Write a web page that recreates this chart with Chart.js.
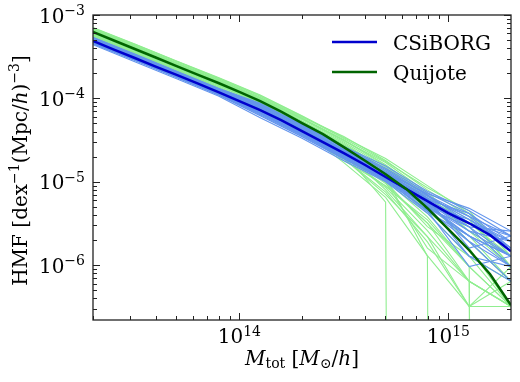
<!DOCTYPE html>
<html>
<head>
<meta charset="utf-8">
<script src="https://cdn.jsdelivr.net/npm/chart.js@4.4.1/dist/chart.umd.min.js"></script>
<style>
  html, body { margin: 0; padding: 0; background: #fff; }
  canvas { display: block; }
</style>
</head>
<body>
<canvas id="hmf" width="520" height="382"></canvas>
<script>
// Mass bins of the single realisations (0.2 dex) and of the mean curves (0.1 dex)
const binMass = [1.995e13, 3.162e13, 5.012e13, 7.943e13, 1.259e14, 1.995e14, 3.162e14, 5.012e14, 7.943e14, 1.259e15, 1.995e15];
const meanMass = [1.995e13, 2.512e13, 3.162e13, 3.981e13, 5.012e13, 6.310e13, 7.943e13, 1.000e14, 1.259e14, 1.585e14, 1.995e14,
                  2.512e14, 3.162e14, 3.981e14, 5.012e14, 6.310e14, 7.943e14, 1.000e15, 1.259e15, 1.585e15, 1.995e15];

// Mean HMF
const csiborgMean = [4.88e-4, 3.85e-4, 3.05e-4, 2.41e-4, 1.91e-4, 1.51e-4, 1.19e-4, 9.29e-5, 7.24e-5, 5.48e-5, 4.05e-5,
                     2.99e-5, 2.20e-5, 1.60e-5, 1.14e-5, 8.15e-6, 5.85e-6, 4.20e-6, 3.18e-6, 2.29e-6, 1.47e-6];
const quijoteMean = [6.25e-4, 4.95e-4, 3.91e-4, 3.09e-4, 2.44e-4, 1.93e-4, 1.53e-4, 1.20e-4, 9.29e-5, 6.95e-5, 5.05e-5,
                     3.72e-5, 2.60e-5, 1.80e-5, 1.23e-5, 8.15e-6, 4.82e-6, 2.70e-6, 1.51e-6, 7.78e-7, 3.30e-7];

// Individual realisations (0 = empty bin)
const csiborgRuns = [
  [5.40e-4, 3.40e-4, 2.12e-4, 1.32e-4, 8.76e-5, 4.84e-5, 2.64e-5, 1.55e-5, 7.70e-6, 4.48e-6, 2.24e-6],
  [4.40e-4, 2.75e-4, 1.72e-4, 1.07e-4, 5.87e-5, 3.32e-5, 1.79e-5, 1.00e-5, 4.20e-6, 1.28e-6, 6.40e-7],
  [5.10e-4, 3.20e-4, 2.00e-4, 1.25e-4, 7.86e-5, 4.39e-5, 2.37e-5, 1.30e-5, 6.40e-6, 3.84e-6, 1.60e-6],
  [4.60e-4, 2.90e-4, 1.80e-4, 1.12e-4, 6.51e-5, 3.63e-5, 1.95e-5, 1.08e-5, 5.10e-6, 2.56e-6, 1.28e-6],
  [5.20e-4, 3.25e-4, 2.05e-4, 1.28e-4, 8.22e-5, 4.66e-5, 2.55e-5, 1.40e-5, 7.00e-6, 3.20e-6, 1.92e-6],
  [4.70e-4, 2.95e-4, 1.85e-4, 1.15e-4, 6.84e-5, 3.80e-5, 2.03e-5, 1.15e-5, 5.80e-6, 1.92e-6, 9.60e-7],
  [4.90e-4, 3.10e-4, 1.95e-4, 1.20e-4, 7.34e-5, 4.14e-5, 2.29e-5, 1.20e-5, 4.80e-6, 2.88e-6, 2.56e-6],
  [5.00e-4, 3.00e-4, 1.90e-4, 1.18e-4, 7.00e-5, 3.97e-5, 2.20e-5, 1.10e-5, 6.10e-6, 4.16e-6, 1.60e-6],
  [4.50e-4, 2.85e-4, 1.78e-4, 1.10e-4, 6.19e-5, 3.47e-5, 1.87e-5, 1.05e-5, 5.40e-6, 2.24e-6, 1.28e-6],
  [5.30e-4, 3.30e-4, 2.08e-4, 1.30e-4, 8.40e-5, 4.57e-5, 2.46e-5, 1.25e-5, 6.70e-6, 3.52e-6, 1.92e-6],
  [4.80e-4, 3.05e-4, 1.90e-4, 1.17e-4, 7.19e-5, 4.05e-5, 2.11e-5, 1.15e-5, 5.50e-6, 2.88e-6, 9.60e-7],
  [4.95e-4, 3.10e-4, 1.93e-4, 1.22e-4, 7.51e-5, 4.22e-5, 2.34e-5, 1.18e-5, 6.40e-6, 1.60e-6, 2.24e-6],
  [4.75e-4, 3.00e-4, 1.88e-4, 1.16e-4, 6.84e-5, 3.88e-5, 2.07e-5, 1.12e-5, 4.50e-6, 9.60e-7, 1.28e-6],
  [5.05e-4, 3.15e-4, 1.98e-4, 1.23e-4, 7.69e-5, 4.31e-5, 2.37e-5, 1.22e-5, 5.90e-6, 3.20e-6, 1.60e-6],
  [4.65e-4, 2.92e-4, 1.82e-4, 1.13e-4, 6.67e-5, 3.72e-5, 2.00e-5, 1.06e-5, 5.00e-6, 2.24e-6, 9.60e-7],
  [5.25e-4, 3.28e-4, 2.06e-4, 1.29e-4, 8.31e-5, 4.75e-5, 2.59e-5, 1.35e-5, 6.90e-6, 3.84e-6, 2.24e-6],
  [4.85e-4, 3.02e-4, 1.89e-4, 1.18e-4, 7.09e-5, 3.97e-5, 2.17e-5, 1.14e-5, 5.70e-6, 2.56e-6, 1.92e-6],
  [4.55e-4, 2.88e-4, 1.79e-4, 1.11e-4, 6.34e-5, 3.55e-5, 1.90e-5, 1.02e-5, 4.60e-6, 1.92e-6, 6.40e-7],
  [5.15e-4, 3.22e-4, 2.02e-4, 1.26e-4, 8.04e-5, 4.48e-5, 2.43e-5, 1.28e-5, 7.20e-6, 4.80e-6, 2.56e-6],
  [4.98e-4, 3.12e-4, 1.96e-4, 1.21e-4, 7.43e-5, 4.17e-5, 2.30e-5, 1.17e-5, 6.00e-6, 2.88e-6, 1.28e-6],
  [4.72e-4, 2.97e-4, 1.86e-4, 1.15e-4, 6.75e-5, 3.83e-5, 2.07e-5, 1.10e-5, 5.20e-6, 3.52e-6, 1.60e-6],
  [5.35e-4, 3.36e-4, 2.10e-4, 1.31e-4, 8.58e-5, 4.81e-5, 2.62e-5, 1.45e-5, 7.40e-6, 4.16e-6, 1.92e-6],
  [4.82e-4, 3.04e-4, 1.91e-4, 1.19e-4, 7.26e-5, 4.10e-5, 2.20e-5, 1.16e-5, 5.30e-6, 1.28e-6, 9.60e-7],
  [5.08e-4, 3.18e-4, 1.99e-4, 1.24e-4, 7.78e-5, 4.34e-5, 2.37e-5, 1.24e-5, 6.20e-6, 3.20e-6, 2.24e-6],
  [4.62e-4, 2.90e-4, 1.81e-4, 1.13e-4, 6.59e-5, 3.67e-5, 1.97e-5, 1.07e-5, 4.40e-6, 2.24e-6, 1.28e-6]
];
const quijoteRuns = [
  [7.10e-4, 4.50e-4, 2.80e-4, 1.78e-4, 1.10e-4, 6.20e-5, 3.40e-5, 1.90e-5, 9.00e-6, 4.16e-6, 1.28e-6],
  [5.50e-4, 3.40e-4, 2.12e-4, 1.30e-4, 7.80e-5, 4.10e-5, 1.70e-5, 6.50e-6, 1.30e-6, 3.20e-7, 3.20e-7],
  [6.50e-4, 4.10e-4, 2.55e-4, 1.60e-4, 9.80e-5, 5.40e-5, 2.90e-5, 1.40e-5, 5.80e-6, 1.92e-6, 6.40e-7],
  [6.00e-4, 3.75e-4, 2.35e-4, 1.45e-4, 8.80e-5, 4.70e-5, 2.30e-5, 1.05e-5, 3.80e-6, 9.60e-7, 3.20e-7],
  [6.80e-4, 4.30e-4, 2.65e-4, 1.68e-4, 1.03e-4, 5.80e-5, 3.20e-5, 1.60e-5, 7.00e-6, 2.56e-6, 9.60e-7],
  [5.80e-4, 3.60e-4, 2.25e-4, 1.38e-4, 8.30e-5, 4.40e-5, 2.00e-5, 8.50e-6, 2.60e-6, 6.40e-7, 0],
  [6.20e-4, 3.85e-4, 2.40e-4, 1.50e-4, 9.00e-5, 4.80e-5, 2.20e-5, 5.70e-6, 0, 0, 0],
  [6.40e-4, 4.00e-4, 2.50e-4, 1.56e-4, 9.50e-5, 5.20e-5, 2.70e-5, 1.15e-5, 1.28e-6, 0, 0],
  [5.90e-4, 3.70e-4, 2.30e-4, 1.42e-4, 8.60e-5, 4.60e-5, 2.10e-5, 9.50e-6, 3.20e-6, 9.60e-7, 0],
  [6.60e-4, 4.15e-4, 2.60e-4, 1.62e-4, 1.00e-4, 5.60e-5, 3.00e-5, 1.50e-5, 6.40e-6, 3.20e-6, 1.28e-6],
  [5.60e-4, 3.50e-4, 2.20e-4, 1.34e-4, 8.00e-5, 4.30e-5, 1.90e-5, 7.50e-6, 1.90e-6, 3.20e-7, 6.40e-7],
  [6.30e-4, 3.95e-4, 2.47e-4, 1.52e-4, 9.30e-5, 5.00e-5, 2.50e-5, 1.25e-5, 4.50e-6, 1.60e-6, 3.20e-7],
  [6.90e-4, 4.40e-4, 2.75e-4, 1.72e-4, 1.06e-4, 6.00e-5, 3.50e-5, 1.80e-5, 8.00e-6, 3.84e-6, 9.60e-7],
  [5.70e-4, 3.55e-4, 2.20e-4, 1.36e-4, 8.10e-5, 4.20e-5, 1.80e-5, 9.00e-6, 3.20e-6, 6.40e-7, 3.20e-7],
  [6.10e-4, 3.80e-4, 2.38e-4, 1.48e-4, 8.90e-5, 4.75e-5, 2.40e-5, 1.10e-5, 4.20e-6, 1.28e-6, 6.40e-7],
  [6.70e-4, 4.25e-4, 2.62e-4, 1.65e-4, 1.01e-4, 5.70e-5, 3.10e-5, 1.70e-5, 7.40e-6, 2.88e-6, 9.60e-7],
  [5.40e-4, 3.45e-4, 2.15e-4, 1.32e-4, 7.90e-5, 4.00e-5, 1.90e-5, 7.00e-6, 2.20e-6, 6.40e-7, 3.20e-7],
  [6.35e-4, 3.98e-4, 2.50e-4, 1.54e-4, 9.40e-5, 5.10e-5, 2.60e-5, 1.30e-5, 5.10e-6, 2.24e-6, 6.40e-7],
  [7.00e-4, 4.45e-4, 2.78e-4, 1.75e-4, 1.08e-4, 6.10e-5, 3.30e-5, 1.75e-5, 8.50e-6, 4.48e-6, 1.28e-6],
  [5.95e-4, 3.72e-4, 2.32e-4, 1.44e-4, 8.70e-5, 4.65e-5, 2.25e-5, 1.00e-5, 2.90e-6, 1.28e-6, 3.20e-7],
  [6.15e-4, 3.88e-4, 2.42e-4, 1.49e-4, 9.10e-5, 4.90e-5, 2.35e-5, 8.00e-6, 2.20e-6, 3.20e-7, 9.60e-7],
  [6.55e-4, 4.12e-4, 2.58e-4, 1.60e-4, 9.70e-5, 5.30e-5, 2.80e-5, 1.35e-5, 5.40e-6, 1.92e-6, 6.40e-7],
  [5.65e-4, 3.52e-4, 2.18e-4, 1.35e-4, 8.20e-5, 4.35e-5, 2.05e-5, 8.80e-6, 3.50e-6, 9.60e-7, 3.20e-7],
  [6.45e-4, 4.05e-4, 2.53e-4, 1.57e-4, 9.60e-5, 5.25e-5, 2.75e-5, 1.45e-5, 6.10e-6, 2.56e-6, 1.28e-6],
  [6.05e-4, 3.78e-4, 2.36e-4, 1.46e-4, 8.80e-5, 4.70e-5, 2.30e-5, 9.80e-6, 1.60e-6, 6.40e-7, 3.20e-7],
  [6.75e-4, 4.28e-4, 2.68e-4, 1.66e-4, 1.02e-4, 5.75e-5, 3.15e-5, 1.55e-5, 6.70e-6, 3.52e-6, 9.60e-7]
];

// Axes
const xRange = [1.995e13, 1.995e15];
const yRange = [2.2e-7, 1e-3];
const xMajorTicks = [1e14, 1e15];
const xTickLabels = ['14', '15'];
const yMajorTicks = [1e-3, 1e-4, 1e-5, 1e-6];
const yTickLabels = ['−3', '−4', '−5', '−6'];
const minorSteps = [2, 3, 4, 5, 6, 7, 8, 9];
const legendLabels = ['CSiBORG', 'Quijote'];

const colors = {
  csiborg: '#6495ed', csiborgMean: '#0000cd',
  quijote: '#90ee90', quijoteMean: '#006400'
};

const SERIF = '"DejaVu Serif", "DejaVu Sans", serif';
function font(size, italic) { return (italic ? 'italic ' : '') + size + 'px ' + SERIF; }

// draws a run of text pieces (for sub/superscripts)
function partsWidth(ctx, parts) {
  let w = 0;
  parts.forEach(p => { ctx.font = p.f; w += ctx.measureText(p.t).width; });
  return w;
}
function drawParts(ctx, parts, x, y) {
  parts.forEach(p => {
    ctx.font = p.f;
    ctx.fillText(p.t, x, y + (p.dy || 0));
    x += ctx.measureText(p.t).width;
  });
}

function runDataset(ys, color) {
  return {
    // empty bins: log(0) -> drawn as a drop below the axis
    data: binMass.map((m, i) => ({x: m, y: ys[i] > 0 ? ys[i] : 1e-100})),
    borderColor: color, borderWidth: 1.1, showLine: true, pointRadius: 0
  };
}
function meanDataset(ys, color) {
  return {
    data: meanMass.map((m, i) => ({x: m, y: ys[i]})),
    borderColor: color, borderWidth: 2.5, showLine: true, pointRadius: 0
  };
}

let datasets = [meanDataset(quijoteMean, colors.quijoteMean), meanDataset(csiborgMean, colors.csiborgMean)];
csiborgRuns.forEach(r => datasets.push(runDataset(r, colors.csiborg)));
quijoteRuns.forEach(r => datasets.push(runDataset(r, colors.quijote)));

const framePlugin = {
  id: 'frame',
  afterDatasetsDraw(chart) {
    const ctx = chart.ctx, a = chart.chartArea;
    const xs = chart.scales.x, ys = chart.scales.y;
    ctx.save();

    // ticks, inward on all four sides
    ctx.strokeStyle = '#222';
    ctx.lineWidth = 1;
    ctx.beginPath();
    function xTick(v, len) {
      const px = Math.round(xs.getPixelForValue(v)) + 0.5;
      if (px < a.left || px > a.right) return;
      ctx.moveTo(px, a.bottom); ctx.lineTo(px, a.bottom - len);
      ctx.moveTo(px, a.top); ctx.lineTo(px, a.top + len);
    }
    function yTick(v, len) {
      const py = Math.round(ys.getPixelForValue(v)) + 0.5;
      if (py < a.top || py > a.bottom) return;
      ctx.moveTo(a.left, py); ctx.lineTo(a.left + len, py);
      ctx.moveTo(a.right, py); ctx.lineTo(a.right - len, py);
    }
    [1e13, 1e14, 1e15].forEach(d => minorSteps.forEach(s => xTick(d * s, 4)));
    [1e-7, 1e-6, 1e-5, 1e-4].forEach(d => minorSteps.forEach(s => yTick(d * s, 4)));
    xMajorTicks.forEach(v => xTick(v, 7));
    yMajorTicks.forEach(v => yTick(v, 7));
    ctx.stroke();

    // frame
    ctx.lineWidth = 1.3;
    ctx.strokeRect(a.left, a.top, a.right - a.left, a.bottom - a.top);

    // tick labels
    ctx.fillStyle = '#000';
    ctx.textBaseline = 'alphabetic';
    ctx.textAlign = 'left';
    yMajorTicks.forEach((v, i) => {
      const parts = [{t: '10', f: font(20)}, {t: yTickLabels[i], f: font(14), dy: -7.5}];
      const w = partsWidth(ctx, parts);
      drawParts(ctx, parts, a.left - 8 - w, ys.getPixelForValue(v) + 7.5);
    });
    xMajorTicks.forEach((v, i) => {
      const parts = [{t: '10', f: font(20)}, {t: xTickLabels[i], f: font(14), dy: -7.5}];
      const w = partsWidth(ctx, parts);
      drawParts(ctx, parts, xs.getPixelForValue(v) - w / 2, a.bottom + 23);
    });

    // axis titles
    const xTitle = [{t: 'M', f: font(20, true)}, {t: 'tot', f: font(14), dy: 3}, {t: ' [', f: font(20)},
                    {t: 'M', f: font(20, true)}, {t: '⊙', f: font(14), dy: 3}, {t: '/', f: font(20)},
                    {t: 'h', f: font(20, true)}, {t: ']', f: font(20)}];
    const cx = (a.left + a.right) / 2;
    drawParts(ctx, xTitle, cx - partsWidth(ctx, xTitle) / 2, 365);

    const yTitle = [{t: 'HMF [dex', f: font(20)}, {t: '−1', f: font(14), dy: -8}, {t: '(Mpc/', f: font(20)},
                    {t: 'h', f: font(20, true)}, {t: ')', f: font(20)}, {t: '−3', f: font(14), dy: -8},
                    {t: ']', f: font(20)}];
    ctx.save();
    ctx.translate(27, (a.top + a.bottom) / 2 + 3);
    ctx.rotate(-Math.PI / 2);
    drawParts(ctx, yTitle, -partsWidth(ctx, yTitle) / 2, 0);
    ctx.restore();

    // legend
    const legendColors = [colors.csiborgMean, colors.quijoteMean];
    legendLabels.forEach((lab, i) => {
      const ly = 42 + i * 30;
      ctx.strokeStyle = legendColors[i];
      ctx.lineWidth = 2.5;
      ctx.beginPath();
      ctx.moveTo(332, ly); ctx.lineTo(377, ly);
      ctx.stroke();
      ctx.font = font(20);
      ctx.fillText(lab, 393, ly + 7.5);
    });

    ctx.restore();
  }
};

new Chart(document.getElementById('hmf'), {
  type: 'scatter',
  data: {datasets: datasets},
  options: {
    responsive: false,
    animation: false,
    devicePixelRatio: 1,
    layout: {padding: {left: 93, right: 9, top: 15, bottom: 62}},
    elements: {line: {tension: 0}, point: {radius: 0}},
    scales: {
      x: {type: 'logarithmic', min: xRange[0], max: xRange[1], display: false},
      y: {type: 'logarithmic', min: yRange[0], max: yRange[1], display: false}
    },
    plugins: {legend: {display: false}, tooltip: {enabled: false}}
  },
  plugins: [framePlugin]
});
</script>
</body>
</html>
